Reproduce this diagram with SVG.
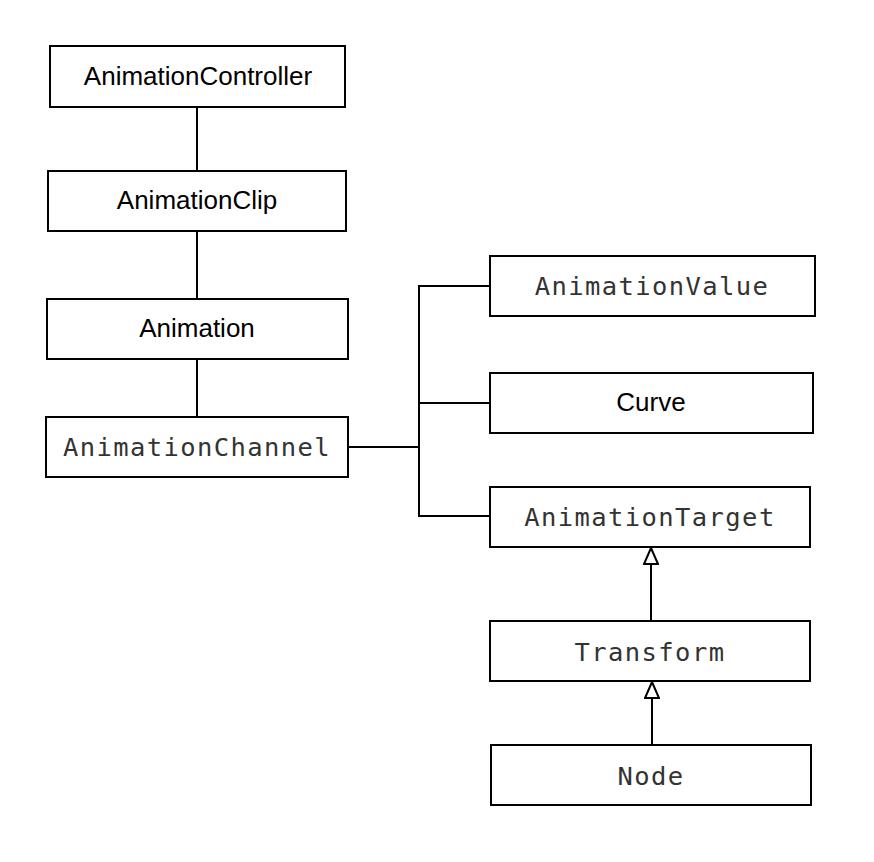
<svg xmlns="http://www.w3.org/2000/svg" width="874" height="862" viewBox="0 0 874 862">
<defs>
<style>
.box{fill:#fff;stroke:#000;stroke-width:2}
.sans{font-family:"Liberation Sans",Arial,sans-serif;font-size:26px;fill:#000;text-anchor:middle}
.mono{font-family:"DejaVu Sans Mono","Liberation Mono",monospace;font-size:25.5px;letter-spacing:1.4px;fill:#333;text-anchor:middle}
.ln{fill:none;stroke:#000;stroke-width:2}
</style>
<marker id="tri" viewBox="0 0 18 16" refX="17" refY="8" markerWidth="18" markerHeight="16" markerUnits="userSpaceOnUse" orient="auto">
<path d="M17,8 L1,15 L1,1 Z" fill="#fff" stroke="#000" stroke-width="2"/>
</marker>
</defs>
<rect width="874" height="862" fill="#fff"/>
<g id="connectors">
<path class="ln" d="M197,107 V171"/>
<path class="ln" d="M197,231 V299"/>
<path class="ln" d="M197,359 V417"/>
<path class="ln" d="M348,447 H419"/>
<path class="ln" d="M490,286 H419 V516 H490"/>
<path class="ln" d="M419,403 H490"/>
<path class="ln" d="M651,621 V548" marker-end="url(#tri)"/>
<path class="ln" d="M652,745 V682" marker-end="url(#tri)"/>
</g>
<g id="AnimationController"><rect class="box" x="50" y="46" width="295" height="61"/><text class="sans" x="198" y="85">AnimationController</text></g>
<g id="AnimationClip"><rect class="box" x="48" y="171" width="298" height="60"/><text class="sans" x="197" y="209">AnimationClip</text></g>
<g id="Animation"><rect class="box" x="47" y="299" width="301" height="60"/><text class="sans" x="197" y="337">Animation</text></g>
<g id="AnimationChannel"><rect class="box" x="46" y="417" width="302" height="60"/><text class="mono" x="197" y="456">AnimationChannel</text></g>
<g id="AnimationValue"><rect class="box" x="490" y="256" width="325" height="60"/><text class="mono" x="652" y="295">AnimationValue</text></g>
<g id="Curve"><rect class="box" x="490" y="373" width="323" height="60"/><text class="sans" x="651" y="411">Curve</text></g>
<g id="AnimationTarget"><rect class="box" x="490" y="487" width="320" height="60"/><text class="mono" x="650" y="526">AnimationTarget</text></g>
<g id="Transform"><rect class="box" x="490" y="621" width="320" height="60"/><text class="mono" x="650" y="661">Transform</text></g>
<g id="Node"><rect class="box" x="491" y="745" width="320" height="60"/><text class="mono" x="651" y="785">Node</text></g>
</svg>
